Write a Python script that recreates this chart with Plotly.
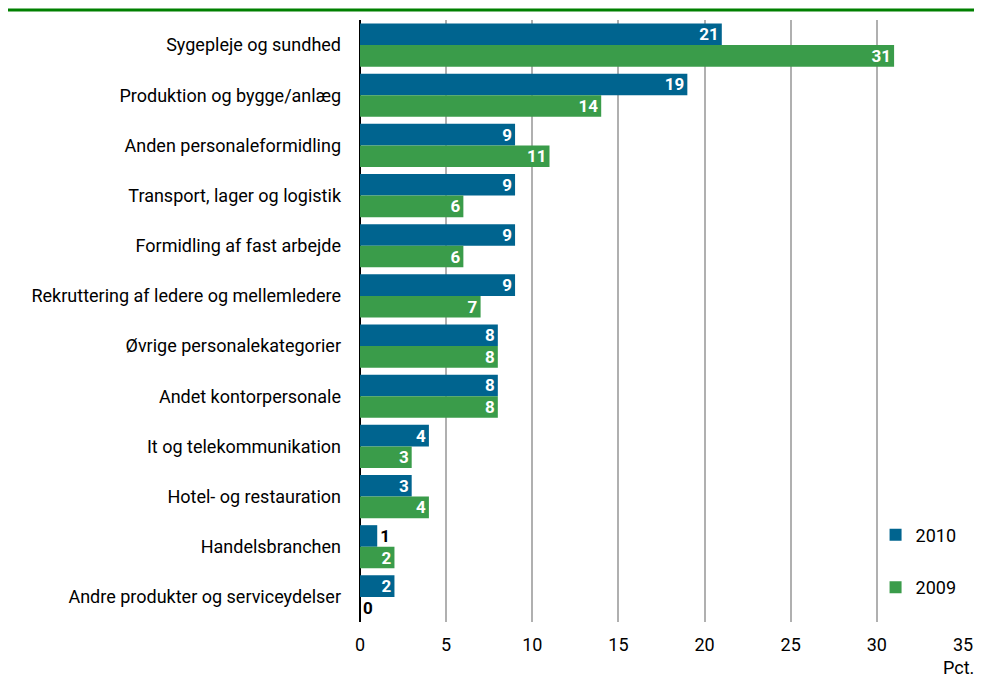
import plotly.graph_objects as go

categories = [
    "Sygepleje og sundhed",
    "Produktion og bygge/anlæg",
    "Anden personaleformidling",
    "Transport, lager og logistik",
    "Formidling af fast arbejde",
    "Rekruttering af ledere og mellemledere",
    "Øvrige personalekategorier",
    "Andet kontorpersonale",
    "It og telekommunikation",
    "Hotel- og restauration",
    "Handelsbranchen",
    "Andre produkter og serviceydelser",
]
values_2010 = [21, 19, 9, 9, 9, 9, 8, 8, 4, 3, 1, 2]
values_2009 = [31, 14, 11, 6, 6, 7, 8, 8, 3, 4, 2, 0]
x_ticks = [0, 5, 10, 15, 20, 25, 30, 35]

FONT = "Roboto, Arial, sans-serif"
BLUE = "#00648f"
GREEN = "#3a9c4a"


def text_props(vals):
    pos = ["outside" if v <= 1 else "inside" for v in vals]
    col = ["black" if v <= 1 else "white" for v in vals]
    return pos, col


fig = go.Figure()
for name, vals, color, grp in [("2010", values_2010, BLUE, "a"), ("2009", values_2009, GREEN, "b")]:
    pos, col = text_props(vals)
    fig.add_trace(go.Bar(
        y=categories, x=vals, name=name, orientation="h",
        marker=dict(color=color, line=dict(width=0)),
        text=[f"<b>{v}</b>" for v in vals],
        textposition=pos,
        textangle=0,
        insidetextanchor="end",
        textfont=dict(color=col, size=17, family=FONT),
        cliponaxis=False,
        legendgroup=grp,
    ))

W, H = 966, 680
L, R, T, B = 352, 11, 12, 66
PW = W - L - R
PH = H - T - B

fig.update_layout(
    width=W, height=H,
    margin=dict(l=L, r=R, t=T, b=B),
    paper_bgcolor="white", plot_bgcolor="white",
    barmode="group", bargap=0.14, bargroupgap=0,
    font=dict(family=FONT, size=18, color="black"),
    uniformtext=dict(minsize=17, mode="show"),
    legend=dict(
        x=0.855, xanchor="left", y=0.175, yanchor="top",
        traceorder="grouped", tracegroupgap=26,
        font=dict(size=18, family=FONT),
        bgcolor="rgba(255,255,255,0)",
        itemwidth=30,
    ),
    showlegend=True,
)
fig.update_xaxes(
    range=[0, 35], tickvals=x_ticks, ticktext=[str(t) for t in x_ticks],
    showgrid=True, gridcolor="#b0b0b0", gridwidth=1.5,
    zeroline=True, zerolinecolor="black", zerolinewidth=2,
    ticks="", tickfont=dict(size=18, family=FONT), ticklabelstandoff=10,
    automargin=False, fixedrange=True,
)
fig.update_yaxes(
    autorange="reversed", showgrid=False, zeroline=False,
    ticks="", tickfont=dict(size=18, family=FONT), ticklabelstandoff=18,
    automargin=False,
)
fig.add_shape(type="line", xref="paper", yref="paper",
              x0=-L / PW, x1=(W - L) / PW, y0=1 + (T - 2) / PH, y1=1 + (T - 2) / PH,
              line=dict(color="#008000", width=3))
fig.add_annotation(text="Pct.", xref="paper", yref="paper", x=1.0, y=0,
                   xanchor="left", yanchor="top", xshift=-22, yshift=-33, showarrow=False,
                   font=dict(size=18, family=FONT))

fig.write_html("out.html")
